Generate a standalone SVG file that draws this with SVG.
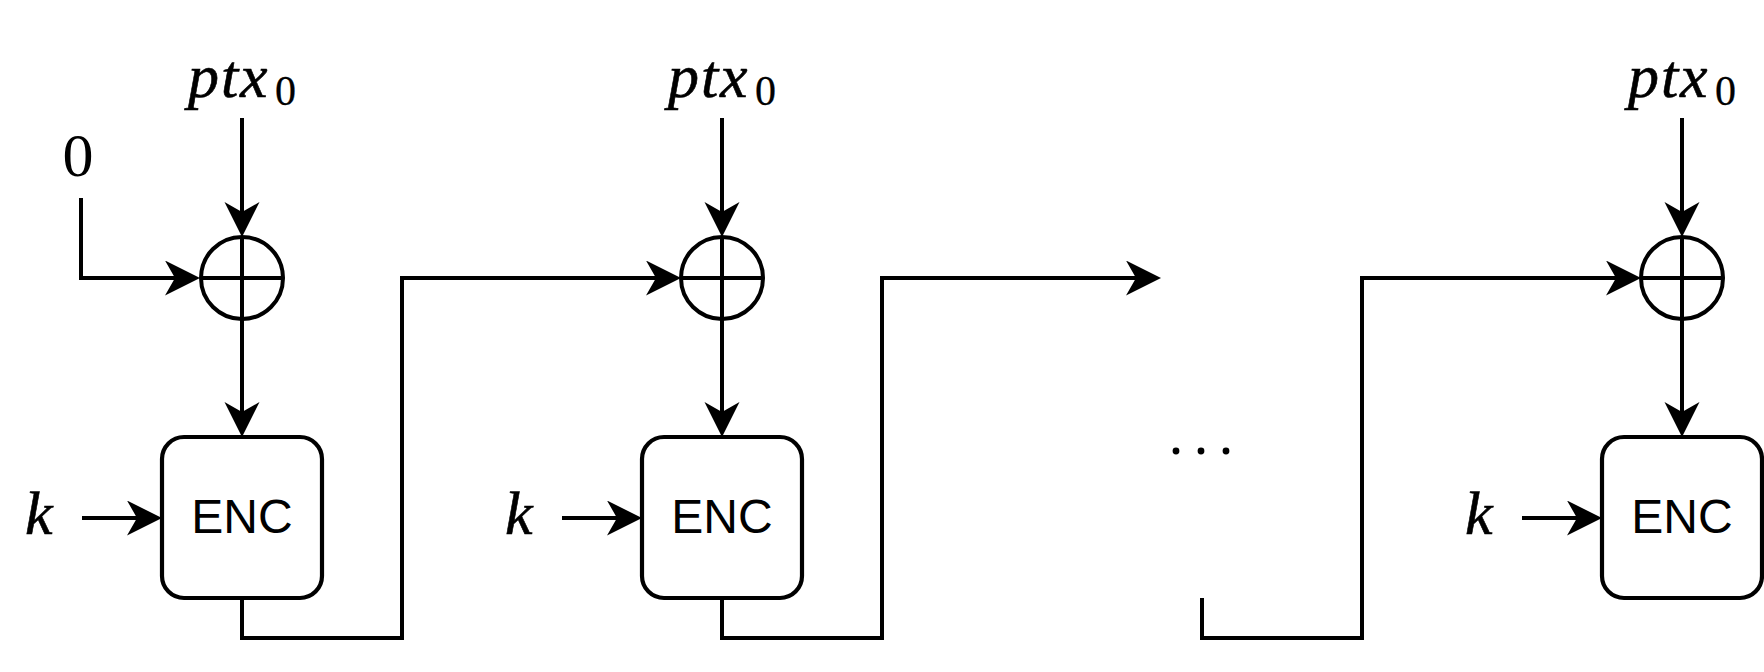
<svg xmlns="http://www.w3.org/2000/svg" width="1764" height="672" viewBox="0 0 1764 672">
<style>
.ln{fill:none;stroke:#000;stroke-width:4;}
.bx{fill:#fff;stroke:#000;stroke-width:4.2;}
.math{font-family:"Liberation Serif",serif;font-style:italic;font-size:62px;fill:#000;stroke:#000;stroke-width:0.6;}
.sub{font-style:normal;font-size:42px;stroke-width:0.3;}
.num{font-family:"Liberation Serif",serif;font-size:62px;fill:#000;}
.enc{font-family:"Liberation Sans",Arial,sans-serif;font-size:48px;fill:#000;}
</style>
<defs>
<marker id="arr" markerUnits="userSpaceOnUse" markerWidth="36" markerHeight="36" viewBox="0 0 36 36" refX="10" refY="17.5" orient="auto">
<path d="M0,0 L35,17.5 L0,35 L10,17.5 Z" fill="#000"/>
</marker>
</defs>
<rect width="1764" height="672" fill="#fff"/>
<g id="connectors">
<path class="ln" d="M81,198 V278 H175" marker-end="url(#arr)"/>
<path class="ln" d="M242,118 V212" marker-end="url(#arr)"/>
<path class="ln" d="M722,118 V212" marker-end="url(#arr)"/>
<path class="ln" d="M1682,118 V212" marker-end="url(#arr)"/>
<path class="ln" d="M242,319 V412" marker-end="url(#arr)"/>
<path class="ln" d="M722,319 V412" marker-end="url(#arr)"/>
<path class="ln" d="M1682,319 V412" marker-end="url(#arr)"/>
<path class="ln" d="M82,518 H137" marker-end="url(#arr)"/>
<path class="ln" d="M562,518 H617" marker-end="url(#arr)"/>
<path class="ln" d="M1522,518 H1577" marker-end="url(#arr)"/>
<path class="ln" d="M242,599 V638 H402 V278 H656" marker-end="url(#arr)"/>
<path class="ln" d="M722,599 V638 H882 V278 H1136" marker-end="url(#arr)"/>
<path class="ln" d="M1202,598 V638 H1362 V278 H1616" marker-end="url(#arr)"/>
</g>
<g id="label-zero"><text class="num" x="78" y="176" text-anchor="middle">0</text></g>
<g id="ptx-1"><text class="math" x="188 221 240" y="97">ptx<tspan class="sub" x="275" y="105">0</tspan></text></g>
<g id="ptx-2"><text class="math" x="668 701 720" y="97">ptx<tspan class="sub" x="755" y="105">0</tspan></text></g>
<g id="ptx-3"><text class="math" x="1628 1661 1680" y="97">ptx<tspan class="sub" x="1715" y="105">0</tspan></text></g>
<g id="xor-1"><circle class="ln" cx="242" cy="278" r="41"/><path class="ln" d="M201,278 H283 M242,237 V319"/></g>
<g id="xor-2"><circle class="ln" cx="722" cy="278" r="41"/><path class="ln" d="M681,278 H763 M722,237 V319"/></g>
<g id="xor-3"><circle class="ln" cx="1682" cy="278" r="41"/><path class="ln" d="M1641,278 H1723 M1682,237 V319"/></g>
<g id="enc-1"><rect class="bx" x="162" y="437" width="160" height="161" rx="22"/><text class="enc" x="242" y="533" text-anchor="middle">ENC</text></g>
<g id="enc-2"><rect class="bx" x="642" y="437" width="160" height="161" rx="22"/><text class="enc" x="722" y="533" text-anchor="middle">ENC</text></g>
<g id="enc-3"><rect class="bx" x="1602" y="437" width="160" height="161" rx="22"/><text class="enc" x="1682" y="533" text-anchor="middle">ENC</text></g>
<g id="k-1"><text class="math" x="25" y="534">k</text></g>
<g id="k-2"><text class="math" x="505" y="534">k</text></g>
<g id="k-3"><text class="math" x="1465" y="534">k</text></g>
<g id="dots"><circle cx="1176" cy="451" r="3.4"/><circle cx="1201" cy="451" r="3.4"/><circle cx="1226" cy="451" r="3.4"/></g>
</svg>
